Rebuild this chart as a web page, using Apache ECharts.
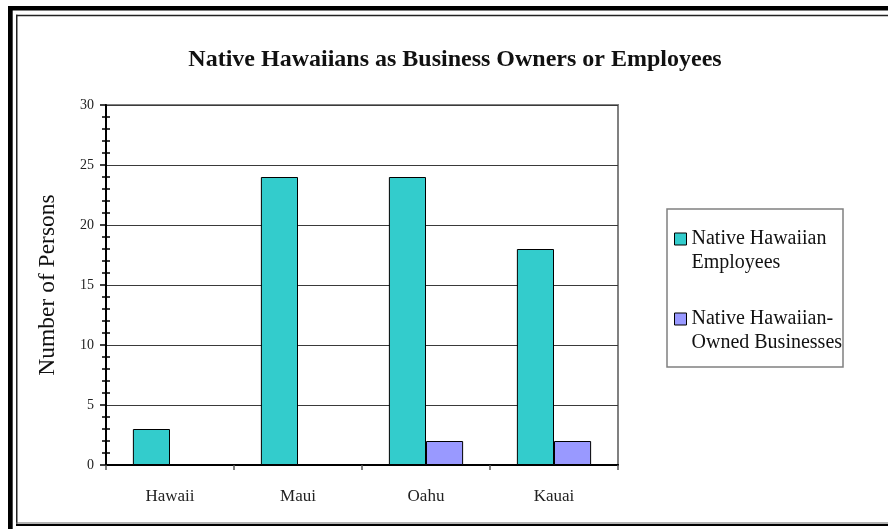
<!DOCTYPE html>
<html>
<head>
<meta charset="utf-8">
<script src="https://cdn.jsdelivr.net/npm/echarts@6/dist/echarts.min.js"></script>
<style>
  html, body { margin: 0; padding: 0; background: #fff; }
  #chart { width: 888px; height: 529px; }
</style>
</head>
<body>
<div id="chart"></div>
<script>
// Islands on the category axis
var islands = ['Hawaii', 'Maui', 'Oahu', 'Kauai'];
// Number of persons per island
var employees = [3, 24, 24, 18];
var ownedBusinesses = [0, 0, 2, 2];
// Series names and their two-line legend text
var seriesNames = ['Native Hawaiian Employees', 'Native Hawaiian-Owned Businesses'];
var legendLines = [['Native Hawaiian', 'Employees'], ['Native Hawaiian-', 'Owned Businesses']];
// Value axis range
var yMin = 0, yMax = 30, yStep = 5;

var SERIF = '"Liberation Serif", "Times New Roman", serif';

var chart = echarts.init(document.getElementById('chart'), null, { renderer: 'canvas' });

var frameW = 888, frameH = 529;

chart.setOption({
  backgroundColor: '#fff',
  animation: false,
  title: {
    text: 'Native Hawaiians as Business Owners or Employees',
    left: 455,
    textAlign: 'center',
    top: 48,
    padding: 0,
    textStyle: { fontFamily: SERIF, fontSize: 24, fontWeight: 'bold', color: '#111' }
  },
  grid: {
    left: 106, right: frameW - 618, top: 105, bottom: frameH - 465,
    show: true, borderColor: '#808080', borderWidth: 2, backgroundColor: 'transparent'
  },
  legend: {
    orient: 'vertical',
    left: 674,
    top: 203,
    padding: 0,
    itemWidth: 12,
    itemHeight: 12,
    itemGap: 8,
    icon: 'rect',
    itemStyle: { borderColor: '#000', borderWidth: 1 },
    // a leading empty line keeps the swatch level with the first text line
    formatter: function (name) {
      return '\n' + legendLines[seriesNames.indexOf(name)].join('\n');
    },
    textStyle: { fontFamily: SERIF, fontSize: 20, color: '#111', lineHeight: 24 },
    data: seriesNames
  },
  xAxis: [{
    type: 'category',
    data: islands,
    axisLine: { lineStyle: { color: '#333', width: 2 } },
    axisTick: { show: true, length: 5, lineStyle: { color: '#555', width: 1.5 } },
    axisLabel: { fontFamily: SERIF, fontSize: 17, color: '#222', margin: 23 }
  }, {
    type: 'category',
    position: 'top',
    data: islands,
    axisLine: { lineStyle: { color: '#000', width: 2 } },
    axisTick: { show: false },
    axisLabel: { show: false }
  }],
  yAxis: [{
    type: 'value',
    min: yMin, max: yMax, interval: yStep,
    name: 'Number of Persons',
    nameLocation: 'middle',
    nameGap: 46,
    nameTextStyle: { fontFamily: SERIF, fontSize: 23.5, color: '#111' },
    axisLine: { show: true, lineStyle: { color: '#000', width: 2 } },
    axisTick: { show: true, length: 6, lineStyle: { color: '#000', width: 1.5 } },
    minorTick: { show: true, splitNumber: 5, length: 4, lineStyle: { color: '#000', width: 1.5 } },
    axisLabel: { fontFamily: SERIF, fontSize: 14, color: '#222', margin: 12 },
    splitLine: { show: true, lineStyle: { color: '#3a3a3a', width: 1 } }
  }, {
    // inner half of the minor ticks, so they cross the axis
    type: 'value',
    position: 'left',
    offset: 0,
    min: yMin, max: yMax, interval: yStep,
    axisLine: { show: false },
    axisTick: { show: false, inside: true },
    minorTick: { show: true, splitNumber: 5, length: 4, lineStyle: { color: '#000', width: 1.5 } },
    axisLabel: { show: false },
    splitLine: { show: false }
  }],
  series: [{
    name: seriesNames[0],
    type: 'bar',
    data: employees,
    barGap: '0%',
    barCategoryGap: '42%',
    itemStyle: { color: '#33CCCC', borderColor: '#000', borderWidth: 1 }
  }, {
    name: seriesNames[1],
    type: 'bar',
    data: ownedBusinesses,
    barGap: '0%',
    barCategoryGap: '42%',
    itemStyle: { color: '#9999FF', borderColor: '#000', borderWidth: 1 }
  }],
  graphic: [
    // legend box
    { type: 'rect', shape: { x: 667, y: 209, width: 176, height: 158 },
      style: { fill: 'none', stroke: '#808080', lineWidth: 1.5 }, z: 10 },
    // outer frame
    { type: 'rect', shape: { x: 8, y: 6, width: frameW - 8, height: 4.5 }, style: { fill: '#000' }, z: 10 },
    { type: 'rect', shape: { x: 8, y: 6, width: 4.7, height: frameH - 6 }, style: { fill: '#000' }, z: 10 },
    { type: 'rect', shape: { x: 16, y: 524, width: frameW - 16, height: 2 }, style: { fill: '#000' }, z: 10 },
    // inner frame
    { type: 'rect', shape: { x: 16, y: 14.7, width: frameW - 16, height: 1.5 }, style: { fill: '#222' }, z: 10 },
    { type: 'rect', shape: { x: 16, y: 14.7, width: 1.5, height: 509 }, style: { fill: '#222' }, z: 10 },
    { type: 'rect', shape: { x: 16, y: 522.5, width: frameW - 16, height: 1 }, style: { fill: '#666' }, z: 10 }
  ]
});
</script>
</body>
</html>
